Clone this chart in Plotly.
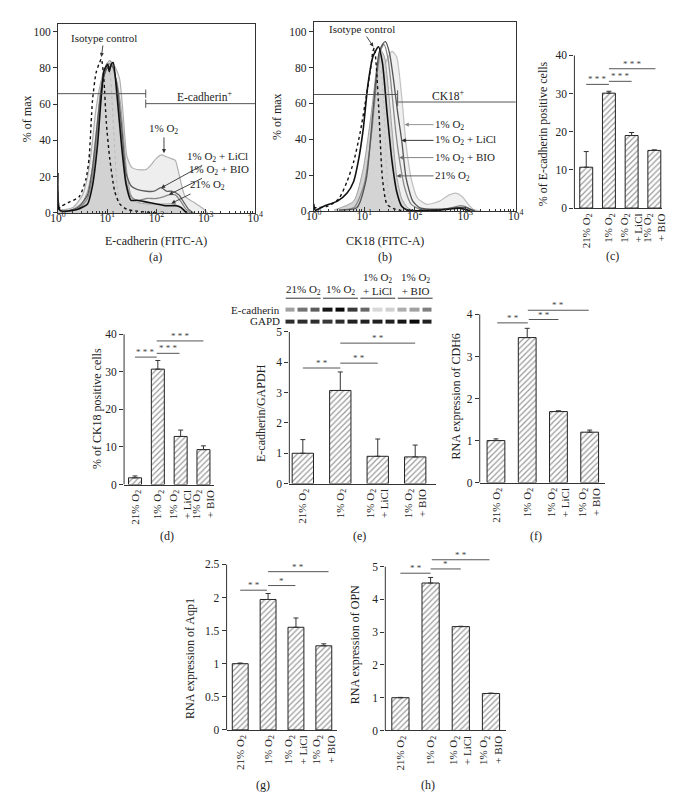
import numpy as np
import plotly.graph_objects as go

FONT = "Liberation Serif"
W, H = 674, 806

# ---------------- data ----------------
CATS = ["21% O<sub>2</sub>", "1% O<sub>2</sub>", "1% O<sub>2</sub><br>+ LiCl", "1% O<sub>2</sub><br>+ BIO"]

# (a) E-cadherin histograms (x in log10 units of FITC-A, y in % of max)
A_ISO_LOG = [0.0, 0.07, 0.2, 0.43, 0.57, 0.63, 0.7, 0.77, 0.83, 0.88, 0.93, 0.98, 1.05, 1.15, 1.25, 1.4, 1.6, 2.0]
A_ISO = [2, 3.8, 5.6, 9, 19, 30, 62, 77, 82, 85, 74, 50, 30, 12, 5, 2, 1, 0]
A_21_LOG = [0.0, 0.02, 0.05, 0.3, 0.5, 0.6, 0.7, 0.78, 0.85, 0.92, 1.0, 1.05, 1.1, 1.15, 1.2, 1.27, 1.33, 1.4, 1.48, 1.6, 1.8, 2.0, 2.2, 2.35, 2.5, 2.6, 2.7]
A_21 = [15, 3, 1, 2, 6, 12, 25, 45, 65, 78, 83, 84, 82, 76, 72, 60, 42, 22, 10, 6, 5, 5, 5, 5, 3, 1, 0]
A_1_LOG = [0.0, 0.05, 0.3, 0.5, 0.6, 0.68, 0.76, 0.85, 0.95, 1.05, 1.1, 1.17, 1.25, 1.32, 1.4, 1.5, 1.6, 1.79, 1.9, 1.99, 2.1, 2.2, 2.3, 2.38, 2.45, 2.52, 2.58, 2.75, 2.94, 3.04]
A_1 = [10, 2, 3, 10, 20, 35, 55, 70, 80, 84, 83, 80, 74, 55, 31, 25, 24, 24, 27, 30, 32, 31, 30, 29, 22, 14, 9, 6, 2.5, 0]
A_LI_LOG = [0.0, 0.05, 0.4, 0.6, 0.7, 0.8, 0.9, 1.0, 1.1, 1.2, 1.3, 1.38, 1.48, 1.6, 1.79, 1.95, 2.09, 2.2, 2.3, 2.45, 2.55, 2.65, 2.75]
A_LI = [12, 1, 3, 10, 25, 50, 72, 80, 81, 70, 45, 22, 15, 13, 12, 12, 14, 12, 12, 10, 6, 2, 0]
A_BIO_LOG = [0.0, 0.05, 0.4, 0.6, 0.7, 0.8, 0.9, 1.0, 1.1, 1.2, 1.3, 1.38, 1.48, 1.6, 1.8, 2.0, 2.15, 2.25, 2.38, 2.5, 2.6, 2.7]
A_BIO = [8, 1, 2, 8, 20, 45, 70, 82, 82, 68, 40, 18, 9, 7, 8, 8, 9, 10, 10, 6, 2, 0]
A_BLK_LOG = [0.0, 0.02, 0.1, 0.4, 0.6, 0.7, 0.8, 0.88, 0.93, 0.98, 1.01, 1.04, 1.08, 1.12, 1.2, 1.29, 1.38, 1.48, 1.6, 1.8, 2.0, 2.2, 2.4, 2.5, 2.57, 2.62]
A_BLK = [22, 2, 1, 2, 5, 15, 37, 65, 78, 81, 82, 78, 82, 83, 64, 37, 16, 7, 7, 6, 5, 4, 4, 3, 1, 0]
A_LGD_LOG = [0.9, 1.0, 1.05, 1.1, 1.15, 1.2, 1.25, 1.35, 1.6, 2.0, 2.4]
A_LGD = [70, 80, 78, 60, 35, 15, 6, 2, 1, 0.5, 0]
A_GATE_Y = [65.8, 60.3]
A_GATE_SPLIT = 1.78

# (b) CK18 histograms
B_ISO_LOG = [0.0, 0.02, 0.28, 0.5, 0.66, 0.79, 0.92, 1.04, 1.14, 1.17, 1.2, 1.24, 1.29, 1.36, 1.45, 1.61, 1.8]
B_ISO = [2, 1.8, 2.7, 7, 16.5, 27.5, 44, 64, 82.5, 89, 91, 80, 55, 18, 3.7, 1, 0]
B_BLK_LOG = [0.0, 0.03, 0.2, 0.47, 0.66, 0.79, 0.88, 0.98, 1.07, 1.17, 1.28, 1.36, 1.45, 1.55, 1.64, 1.74, 1.86, 2.5, 2.9, 3.1]
B_BLK = [4, 0.5, 2.7, 5.5, 10, 16.5, 27.5, 46, 70, 86, 91.6, 82.5, 55, 27.5, 11, 2.7, 0.5, 0.5, 1.5, 0]
B_1_LOG = [0.5, 0.85, 1.1, 1.29, 1.42, 1.55, 1.64, 1.74, 1.83, 1.93, 2.05, 2.24, 2.49, 2.68, 2.81, 2.94, 3.06, 3.16, 3.3]
B_1 = [0.5, 3.7, 27.5, 55, 82.5, 89, 86, 64, 36.6, 18, 7.3, 3.7, 5.5, 9, 10, 8, 3.7, 1, 0]
B_LI_LOG = [0.5, 0.85, 1.04, 1.17, 1.29, 1.36, 1.42, 1.5, 1.58, 1.66, 1.74, 1.83, 1.96, 2.1, 2.5, 2.85, 3.0, 3.2]
B_LI = [0.5, 1.8, 18, 55, 88, 93, 94.5, 88, 73, 55, 39.5, 18, 5.5, 1.8, 1, 2, 2, 0]
B_BIO_LOG = [0.5, 0.8, 1.0, 1.15, 1.27, 1.33, 1.39, 1.47, 1.55, 1.62, 1.69, 1.8, 1.93, 2.1, 2.6, 2.9, 3.0, 3.15]
B_BIO = [0.5, 2, 15, 45, 80, 90, 93, 85, 65, 45, 29.8, 13, 3.7, 1, 1, 3, 2.5, 0]
B_21_LOG = [0.4, 0.79, 0.98, 1.14, 1.26, 1.33, 1.4, 1.47, 1.55, 1.64, 1.74, 1.86, 2.0]
B_21 = [0.5, 5.5, 23.8, 55, 82.5, 89.6, 86, 70, 45, 19.6, 7, 1.8, 0]
B_LGD_LOG = [1.2, 1.28, 1.33, 1.38, 1.42, 1.48, 1.55, 1.61, 1.8]
B_LGD = [60, 75, 79, 60, 36.6, 9, 4, 1.8, 0]
B_GATE_Y = [65.0, 60.8]
B_GATE_SPLIT = 1.66

# bar panels: values, upper error, significance (x0, x1, y, stars)
C_VALS = [10.7, 30.1, 19.0, 15.1]
C_ERR = [4.1, 0.5, 0.8, 0.15]
C_SIG = [(0, 1, 32.4, "* * *"), (1, 2, 33.2, "* * *"), (1, 3.05, 36.5, "* * *")]
D_VALS = [1.8, 30.7, 12.8, 9.3]
D_ERR = [0.5, 2.3, 1.7, 1.0]
D_SIG = [(0, 0.95, 33.9, "* * *"), (0.95, 1.95, 34.9, "* * *"), (0.95, 3.0, 38.2, "* * *")]
E_VALS = [1.0, 3.07, 0.9, 0.88]
E_ERR = [0.45, 0.61, 0.57, 0.39]
E_SIG = [(0, 1, 3.81, "* *"), (1, 2, 3.97, "* *"), (1, 3, 4.63, "* *")]
F_VALS = [1.0, 3.45, 1.69, 1.2]
F_ERR = [0.04, 0.22, 0.02, 0.05]
F_SIG = [(0.04, 1.02, 3.80, "* *"), (1.05, 2.0, 3.88, "* *"), (1.02, 2.97, 4.10, "* *")]
G_VALS = [1.0, 1.97, 1.55, 1.27]
G_ERR = [0.01, 0.09, 0.14, 0.03]
G_SIG = [(0, 0.96, 2.11, "* *"), (1.0, 1.98, 2.18, "*"), (1.0, 3.17, 2.39, "* *")]
H_VALS = [1.0, 4.5, 3.17, 1.13]
H_ERR = [0.01, 0.17, 0.01, 0.01]
H_SIG = [(0, 1.0, 4.8, "* *"), (1.0, 2.0, 4.93, "*"), (1.04, 2.95, 5.21, "* *")]

# western blot band darkness (12 lanes)
BLOT_ECAD = [0.35, 0.55, 0.65, 0.95, 1.0, 0.8, 0.6, 0.12, 0.15, 0.3, 0.35, 0.5]
BLOT_GAPD = [0.85, 0.85, 0.85, 0.8, 0.85, 0.9, 0.9, 0.9, 0.9, 0.95, 1.0, 0.9]
BLOT_GROUPS = ["21% O<sub>2</sub>", "1% O<sub>2</sub>", "1% O<sub>2</sub><br>+ LiCl", "1% O<sub>2</sub><br>+ BIO"]

# ---------------- helpers ----------------
def dx(a, b):
    return [a / W, b / W]

def dy(top, bottom):
    return [1 - bottom / H, 1 - top / H]

def py(p):
    return 1 - p / H

TITLE_SIZE = 12
fig = go.Figure()
annotations = []
shapes = []
layout = dict(width=W, height=H, margin=dict(l=0, r=0, t=0, b=0), autosize=False,
              paper_bgcolor="white", plot_bgcolor="white", showlegend=False,
              font=dict(family=FONT, size=11, color="#222"))

def axn(n):
    return ("xaxis" if n == 1 else f"xaxis{n}"), ("yaxis" if n == 1 else f"yaxis{n}"), \
           ("x" if n == 1 else f"x{n}"), ("y" if n == 1 else f"y{n}")

def text(x, y, s, size=11, angle=0, xanchor="center", yanchor="middle", color="#222", xref="paper", yref="paper"):
    annotations.append(dict(x=x, y=y, xref=xref, yref=yref, text=s, showarrow=False, textangle=angle,
                            xanchor=xanchor, yanchor=yanchor, font=dict(family=FONT, size=size, color=color)))

# ---------------- histogram panels ----------------
def hist_panel(n, xpx, ypx, ytop, curves, gate_y, gate_split, gate_label, gate_label_pos):
    xa, ya, xr, yr = axn(n)
    layout[xa] = dict(type="log", range=[0, 4], domain=dx(*xpx), anchor=yr,
                      tickvals=[1, 10, 100, 1000, 10000],
                      ticktext=["10<sup>0</sup>", "10<sup>1</sup>", "10<sup>2</sup>", "10<sup>3</sup>", "10<sup>4</sup>"],
                      ticks="inside", ticklen=4, tickcolor="#333", showline=True, linecolor="#333",
                      mirror=True, showgrid=False, zeroline=False, tickfont=dict(size=11.5),
                      ticklabelstandoff=-6,
                      minor=dict(ticks="inside", ticklen=2, tickcolor="#333", dtick="D1", showgrid=False))
    layout[ya] = dict(range=[0, ytop], domain=dy(*ypx), anchor=xr, tickvals=[0, 20, 40, 60, 80, 100],
                      ticks="outside", ticklen=4, tickcolor="#333", showline=True, linecolor="#333",
                      mirror=True, showgrid=False, zeroline=False, tickfont=dict(size=11.5))
    for (lx, ly, lc, lw, dash, fill) in curves:
        fig.add_trace(go.Scatter(x=10 ** np.array(lx), y=ly, mode="lines", xaxis=xr, yaxis=yr,
                                 line=dict(color=lc, width=lw, dash=dash, shape="spline", smoothing=0.6),
                                 fill="tozeroy" if fill else None, fillcolor=fill, hoverinfo="skip"))
    s = 10 ** gate_split
    g1, g2 = gate_y
    for xs, ys in [([1, s], [g1, g1]), ([s, s], [g1 - 2.3, g1 + 2.3]),
                   ([s, 10000], [g2, g2]), ([s, s], [g2 - 2.3, g2 + 2.3])]:
        fig.add_trace(go.Scatter(x=xs, y=ys, mode="lines", xaxis=xr, yaxis=yr,
                                 line=dict(color="#555", width=1), hoverinfo="skip"))
    annotations.append(dict(x=gate_label_pos[0], y=gate_label_pos[1], xref=xr, yref=yr, text=gate_label,
                            showarrow=False, font=dict(family=FONT, size=11.5, color="#222")))

hist_panel(1, (43, 245), (10, 202), 104.3,
           [(A_1_LOG, A_1, "#b0b0b0", 1.2, "solid", "#eeeeee"),
            (A_21_LOG, A_21, "#a0a0a0", 1, "solid", "#d2d2d2"),
            (A_LGD_LOG, A_LGD, "#bbbbbb", 1, "dot", None),
            (A_BIO_LOG, A_BIO, "#8a8a8a", 1.3, "solid", None),
            (A_LI_LOG, A_LI, "#5e5e5e", 1.3, "solid", None),
            (A_BLK_LOG, A_BLK, "#111111", 1.6, "solid", None),
            (A_ISO_LOG, A_ISO, "#111111", 1.4, "dot", None)],
           A_GATE_Y, A_GATE_SPLIT, "E-cadherin<sup>+</sup>", (2.97, 64.5))

hist_panel(2, (305, 512), (8, 200), 105.5,
           [(B_1_LOG, B_1, "#c0c0c0", 1.2, "solid", "#f0f0f0"),
            (B_21_LOG, B_21, "#a0a0a0", 1, "solid", "#d4d4d4"),
            (B_LGD_LOG, B_LGD, "#c4c4c4", 1, "dot", None),
            (B_BIO_LOG, B_BIO, "#8a8a8a", 1.3, "solid", None),
            (B_LI_LOG, B_LI, "#555555", 1.3, "solid", None),
            (B_BLK_LOG, B_BLK, "#111111", 1.6, "solid", None),
            (B_ISO_LOG, B_ISO, "#111111", 1.4, "dot", None)],
           B_GATE_Y, B_GATE_SPLIT, "CK18<sup>+</sup>", (2.65, 64.5))

def arrow(n, tx, ty, ax, ay, s, xanchor="center", color="#333", size=11):
    xa, ya, xr, yr = axn(n)
    annotations.append(dict(x=tx, y=ty, xref=xr, yref=yr, ax=ax, ay=ay, axref=xr, ayref=yr, text=s,
                            showarrow=True, arrowhead=2, arrowsize=0.9, arrowwidth=0.9, arrowcolor=color,
                            xanchor=xanchor, font=dict(family=FONT, size=size, color="#222")))

arrow(1, 0.88, 86, 0.93, 96.5, "Isotype control")
arrow(1, 2.15, 33, 2.15, 46.4, "1% O<sub>2</sub>")
arrow(1, 2.09, 13.8, 3.24, 31, "1% O<sub>2</sub> + LiCl")
arrow(1, 2.25, 10.1, 3.27, 23.8, "1% O<sub>2</sub> + BIO")
arrow(1, 2.3, 5.3, 3.04, 15.2, "21% O<sub>2</sub>")

arrow(2, 1.18, 91.6, 0.95, 101.5, "Isotype control")
arrow(2, 1.8, 48.2, 2.37, 48.2, "1% O<sub>2</sub>", xanchor="left", color="#888")
arrow(2, 1.74, 39.4, 2.37, 39.4, "1% O<sub>2</sub> + LiCl", xanchor="left", color="#222")
arrow(2, 1.69, 29.8, 2.37, 29.8, "1% O<sub>2</sub> + BIO", xanchor="left", color="#777")
arrow(2, 1.64, 19.6, 2.37, 19.6, "21% O<sub>2</sub>", xanchor="left", color="#555")

text(12 / W, py(106), "% of max", angle=-90, size=TITLE_SIZE)
text(268 / W, py(104), "% of max", angle=-90, size=TITLE_SIZE)
text(143 / W, py(230), "E-cadherin (FITC-A)", size=TITLE_SIZE)
text(378 / W, py(230), "CK18 (FITC-A)", size=TITLE_SIZE)
text(143 / W, py(247), "(a)", size=TITLE_SIZE)
text(378 / W, py(247), "(b)", size=TITLE_SIZE)

# ---------------- bar panels ----------------
def bar_panel(n, xpx, y0px, ytoppx, topval, R, xrng, vals, errs, sig, yticks, ytitle, ytitle_pos, label, label_pos):
    xa, ya, xr, yr = axn(n)
    ppu = (y0px - ytoppx) / topval
    top_px = y0px - R * ppu
    layout[xa] = dict(domain=dx(*xpx), anchor=yr, range=xrng, tickvals=[0, 1, 2, 3], ticktext=CATS,
                      tickangle=-90, showline=True, linecolor="#333", linewidth=1, ticks="",
                      showgrid=False, zeroline=False, tickfont=dict(size=11))
    layout[ya] = dict(domain=dy(top_px, y0px), anchor=xr, range=[0, R], tickvals=yticks,
                      ticktext=[("%g" % v) for v in yticks], ticks="outside", ticklen=4, tickcolor="#333",
                      showline=False, showgrid=False, zeroline=False, tickfont=dict(size=11.5))
    fig.add_trace(go.Bar(x=[0, 1, 2, 3], y=vals, width=0.57, xaxis=xr, yaxis=yr,
                         marker=dict(color="white", line=dict(color="#222", width=1),
                                     pattern=dict(shape="/", fgcolor="#333", bgcolor="white", size=4, solidity=0.3)),
                         error_y=dict(type="data", symmetric=False, array=errs, arrayminus=[0] * 4,
                                      color="#333", thickness=1, width=2.5),
                         hoverinfo="skip"))
    shapes.append(dict(type="line", xref=f"{xr} domain", yref=yr, x0=0, x1=0, y0=0, y1=topval,
                       line=dict(color="#333", width=1)))
    for (x0, x1, yv, st) in sig:
        shapes.append(dict(type="line", xref=xr, yref=yr, x0=x0, x1=x1, y0=yv, y1=yv,
                           line=dict(color="#555", width=1)))
        annotations.append(dict(x=(x0 + x1) / 2, y=yv, xref=xr, yref=yr, text=st, showarrow=False,
                                yanchor="middle", yshift=5, font=dict(family=FONT, size=9, color="#444")))
    text(ytitle_pos[0] / W, py(ytitle_pos[1]), ytitle, angle=-90, size=TITLE_SIZE)
    text(label_pos[0] / W, py(label_pos[1]), label, size=TITLE_SIZE)

bar_panel(3, (572, 662), 197, 42, 40, 40, [-0.52, 3.35], C_VALS, C_ERR, C_SIG, [0, 10, 20, 30, 40],
          "% of E-cadherin positive cells", (540, 122), "(c)", (611, 246))
bar_panel(4, (110.7, 203), 477.7, 325, 40, 40, [-0.48, 3.47], D_VALS, D_ERR, D_SIG, [0, 10, 20, 30, 40],
          "% of CK18 positive cells", (83, 401), "(d)", (155, 530))
bar_panel(5, (280, 430), 476.7, 322.7, 5, 5, [-0.36, 3.55], E_VALS, E_ERR, E_SIG, [0, 1, 2, 3, 4, 5],
          "E-cadherin/GAPDH", (251, 405), "(e)", (352, 530))
bar_panel(6, (475, 603.3), 475.7, 305, 4, 4.4, [-0.52, 3.49], F_VALS, F_ERR, F_SIG, [0, 1, 2, 3, 4],
          "RNA expression of CDH6", (451, 388), "(f)", (533, 530))
bar_panel(7, (215.7, 329), 726.7, 558.7, 2.5, 2.5, [-0.49, 3.48], G_VALS, G_ERR, G_SIG, [0, 0.5, 1, 1.5, 2, 2.5],
          "RNA expression of Aqp1", (178, 654), "(g)", (253, 783))
bar_panel(8, (378.3, 502.3), 727.3, 561, 5, 5.5, [-0.5, 3.51], H_VALS, H_ERR, H_SIG, [0, 1, 2, 3, 4, 5],
          "RNA expression of OPN", (348, 640), "(h)", (422, 783))

# ---------------- western blot ----------------
fig.add_trace(go.Heatmap(z=[BLOT_GAPD, BLOT_ECAD], x=list(range(12)), y=[0, 1], xaxis="x9", yaxis="y9",
                         colorscale=[[0, "#f3f3f3"], [1, "#0a0a0a"]], zmin=0, zmax=1, showscale=False,
                         xgap=3, ygap=8, hoverinfo="skip"))
layout["xaxis9"] = dict(domain=dx(275, 428), range=[-0.5, 11.5], visible=False, anchor="y9")
layout["yaxis9"] = dict(domain=dy(294, 318), range=[-0.5, 1.5], visible=False, anchor="x9")
text(272 / W, py(300), "E-cadherin", xanchor="right")
text(272 / W, py(312), "GAPD", xanchor="right")
for gi, g in enumerate(BLOT_GROUPS):
    c = gi * 3 + 1
    annotations.append(dict(x=c, y=py(289), xref="x9", yref="paper", text=g, showarrow=False,
                            yanchor="bottom", font=dict(family=FONT, size=11, color="#222")))
    shapes.append(dict(type="line", xref="x9", yref="paper", x0=c - 1.4, x1=c + 1.4, y0=py(288.5), y1=py(288.5),
                       line=dict(color="#333", width=1)))

layout["annotations"] = annotations
layout["shapes"] = shapes
fig.update_layout(**layout)
fig.write_html("out.html")
